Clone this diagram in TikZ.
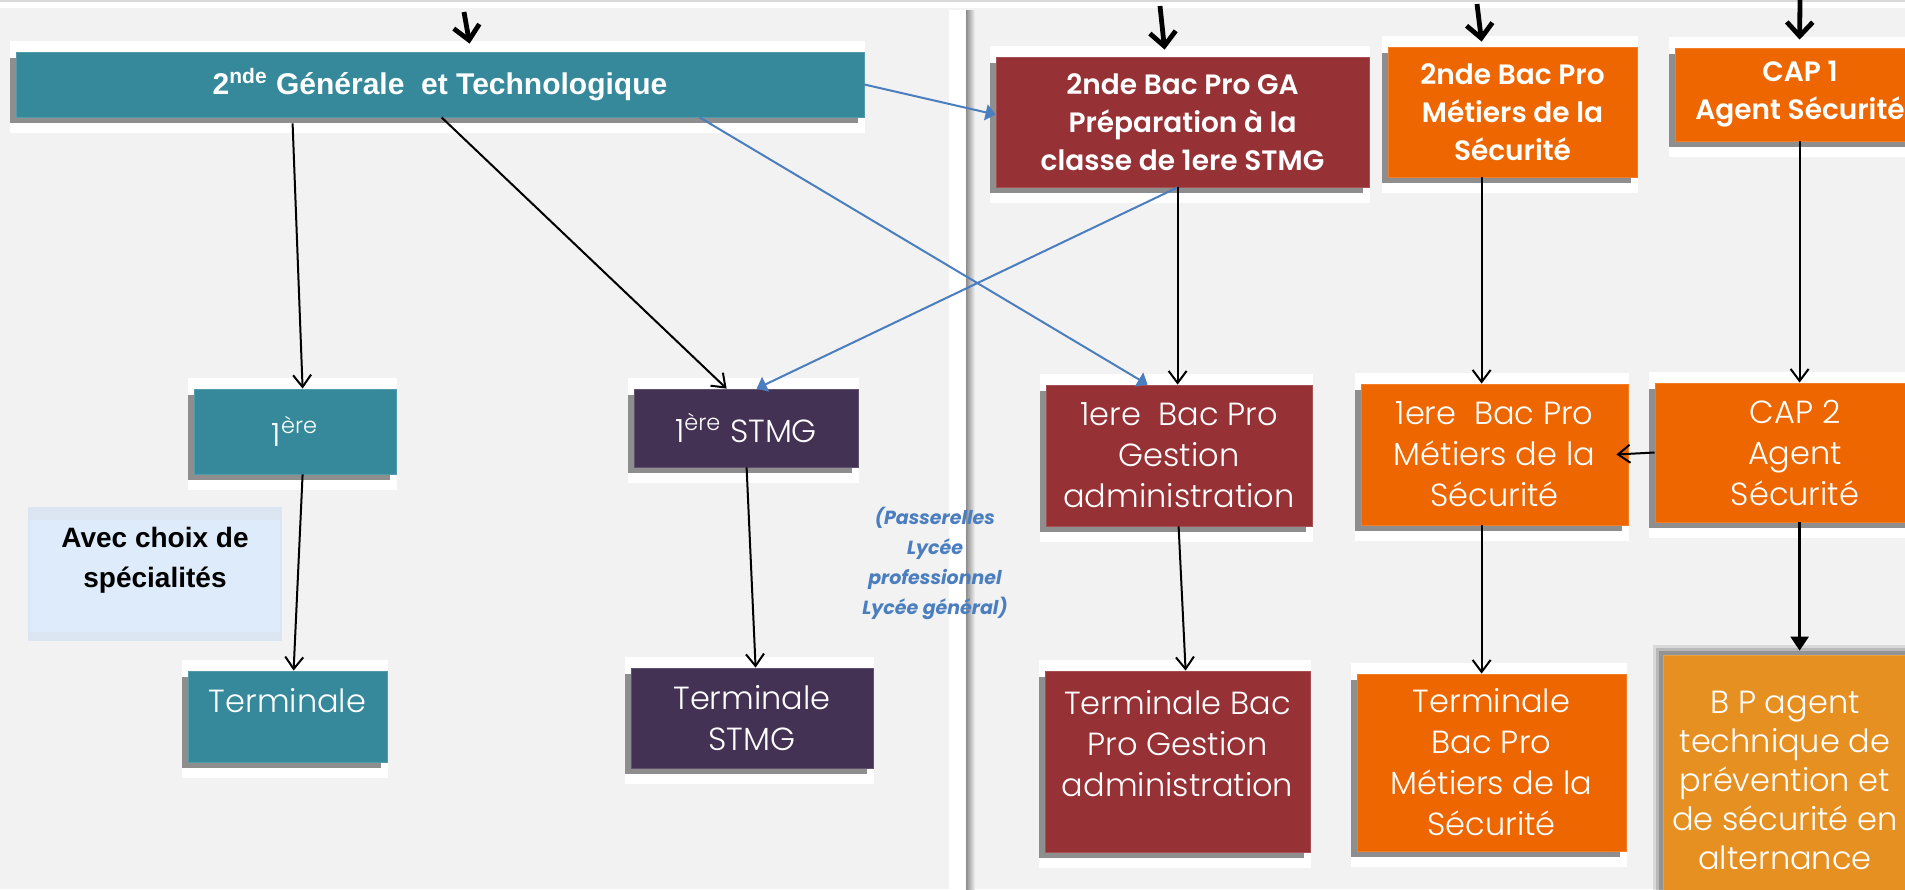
\documentclass[tikz,border=0pt]{standalone}
\usepackage{fontspec}
\setmainfont{Liberation Sans}
\newfontfamily\gothic{Poppins}
\newfontfamily\gothicgras{Poppins SemiBold}
\newfontfamily\gothicfin{Poppins Light}
\usetikzlibrary{arrows.meta,calc}

\definecolor{fond}{HTML}{F2F2F2}
\definecolor{sarcelle}{HTML}{35899A}
\definecolor{bordeaux}{HTML}{963135}
\definecolor{aubergine}{HTML}{443254}
\definecolor{orangevif}{HTML}{EE6600}
\definecolor{orangeclair}{HTML}{E69022}
\definecolor{ombre}{HTML}{8E8E8E}
\definecolor{bleu}{HTML}{4A7EBF}
\definecolor{bordbleu}{HTML}{DCE6F2}
\definecolor{fondbleu}{HTML}{DDEBFB}

\tikzset{
	boite/.style={inner sep=0pt, align=center, text=white, draw=#1!85!white, line width=0.4pt, fill=#1},
	haut/.style={font=\gothicgras\fontsize{14}{19}\selectfont},
	bas/.style={font=\gothicfin\fontsize{16}{20.5}\selectfont},
	fleche/.style={line width=1pt, -{Straight Barb[length=6pt,width=9pt]}},
	lien/.style={draw=bleu, line width=1pt, -{Triangle[length=5pt,width=8pt]}},
	entree/.style={line width=2.4pt, -{Straight Barb[length=7pt,width=13pt]}},
}

% fond blanc + ombre + boite, coordonnees en pixels
\newcommand{\boite}[7]{%
	\fill[white] (#3-6,#4-11) rectangle (#5+1,#6+16);
	\fill[ombre] (#3-6,#4+6) rectangle (#5-6,#6+6);
	\node[#2, minimum width={(#5-#3)*0.5pt}, minimum height={(#6-#4)*0.5pt}] (#1) at ({(#3+#5)/2},{(#4+#6)/2}) {#7};%
}

\begin{document}
\begin{tikzpicture}[x=0.5pt,y=-0.5pt]
	\useasboundingbox (0,0) rectangle (1905,889);
	\fill[white] (0,0) rectangle (1905,889);
	\fill[fond] (0,8) rectangle (1905,889);
	\draw[black!15,line width=1pt] (0,1) -- (1905,1);
	% separation voie generale / voie pro
	\fill[white] (949,10) rectangle (968,889);
	\shade[left color=black!45, right color=fond] (966,10) rectangle (975,889);

	\boite{gen}{boite=sarcelle,font=\bfseries\fontsize{15}{18}\selectfont}{16}{52}{864}{117}{2\textsuperscript{nde} Générale\ \ et Technologique}
	\boite{gaA}{boite=bordeaux,haut}{996}{57}{1369}{187}{2nde Bac Pro GA\\ Préparation à la\\classe de 1ere STMG}
	\boite{ms2}{boite=orangevif,haut}{1388}{47}{1637}{177}{2nde Bac Pro\\Métiers de la\\Sécurité}
	\boite{cap1}{boite=orangevif,haut}{1675}{48}{1925}{141}{CAP 1\\Agent Sécurité}

	\boite{un}{boite=sarcelle,bas}{194}{389}{396}{474}{1\textsuperscript{ère}}
	\boite{stmg1}{boite=aubergine,bas}{634}{389}{858}{467}{1\textsuperscript{ère} STMG}
	\boite{ga1}{boite=bordeaux,bas}{1046}{385}{1312}{526}{1ere\ \ Bac Pro\\Gestion\\administration}
	\boite{ms1}{boite=orangevif,bas}{1361}{384}{1628}{525}{1ere\ \ Bac Pro\\Métiers de la\\Sécurité}
	\boite{cap2}{boite=orangevif,bas}{1655}{383}{1935}{522}{CAP 2\\Agent\\Sécurité}

	\boite{term}{boite=sarcelle,bas,text depth=16pt}{188}{671}{387}{762}{Terminale}
	\boite{termstmg}{boite=aubergine,bas}{631}{668}{873}{768}{Terminale\\STMG}
	\boite{termga}{boite=bordeaux,bas,text depth=18pt}{1045}{671}{1310}{852}{Terminale Bac\\Pro Gestion\\administration}
	\boite{msT}{boite=orangevif,bas}{1357}{674}{1626}{851}{Terminale\\Bac Pro\\Métiers de la\\Sécurité}

	% BP : ombre floue
	\foreach \d/\o in {10/0.10,7/0.15,4/0.2} \fill[black,opacity=\o] (1663-\d,655-\d) rectangle (1925,935);
	\node[boite=orangeclair,bas,font=\gothicfin\fontsize{16}{19.5}\selectfont,text depth=15pt,minimum width=122pt,minimum height=140pt] (bp) at (1785,795) {B P agent\\technique de\\prévention et\\de sécurité en\\alternance};

	\fill[bordbleu] (28,507) rectangle (282,641);
	\node[fill=fondbleu,inner sep=0pt,align=center,minimum width=125pt,minimum height=56pt,font=\bfseries\fontsize{14}{20}\selectfont,text depth=19pt] (avec) at (155,576) {Avec choix de\\spécialités};

	\node[text=bleu,align=center,font=\gothic\bfseries\itshape\fontsize{9.5}{15}\selectfont] (passe) at (935,563) {(Passerelles\\Lycée\\professionnel\\Lycée général)};

	% fleches d'entree
	\coordinate (e1) at (464,12);
	\coordinate (e2) at (1160,6);
	\coordinate (e3) at (1477,4);
	\coordinate (e4) at (1800,0);
	\draw[entree] (e1) -- ($(gen.north west)+(454,-8)$);
	\draw[entree] (e2) -- ($(gaA.north west)+(169,-7)$);
	\draw[entree] (e3) -- ($(ms2.north west)+(94,-5)$);
	\draw[entree] (e4) -- ($(cap1.north west)+(125,-8)$);

	\draw[fleche] ($(gen.south west)+(277,6)$) -- ($(un.north west)+(109,0)$);
	\draw[fleche] ($(gen.south west)+(426,0)$) -- ($(stmg1.north west)+(93,0)$);
	\draw[lien] (gen.east) -- ($(gaA.north west)+(0,58)$);
	\draw[lien] ($(gen.south west)+(684,0)$) -- ($(ga1.north west)+(102,0)$);
	\draw[lien] ($(gaA.south west)+(182,0)$) -- ($(stmg1.north west)+(123,0)$);
	\draw[fleche] ($(gaA.south west)+(182,0)$) -- ($(ga1.north west)+(132,0)$);
	\draw[fleche] ($(ms2.south west)+(94,0)$) -- ($(ms1.north west)+(121,0)$);
	\draw[fleche] ($(cap1.south west)+(125,0)$) -- ($(cap2.north west)+(145,0)$);

	\draw[fleche] ($(un.south west)+(109,0)$) -- ($(term.north west)+(106,0)$);
	\draw[fleche] ($(stmg1.south west)+(113,0)$) -- ($(termstmg.north west)+(125,0)$);
	\draw[fleche] ($(ga1.south west)+(133,0)$) -- ($(termga.north west)+(141,0)$);
	\draw[fleche] ($(ms1.south west)+(121,0)$) -- ($(msT.north west)+(125,0)$);
	\draw[fleche] (cap2.west) -- ([xshift=-6pt]ms1.east);
	\draw[line width=1.2pt,-{Triangle[length=7pt,width=9pt]}] ($(cap2.south west)+(145,0)$) -- ($(bp.north west)+(137,-4)$);
\end{tikzpicture}
\end{document}
